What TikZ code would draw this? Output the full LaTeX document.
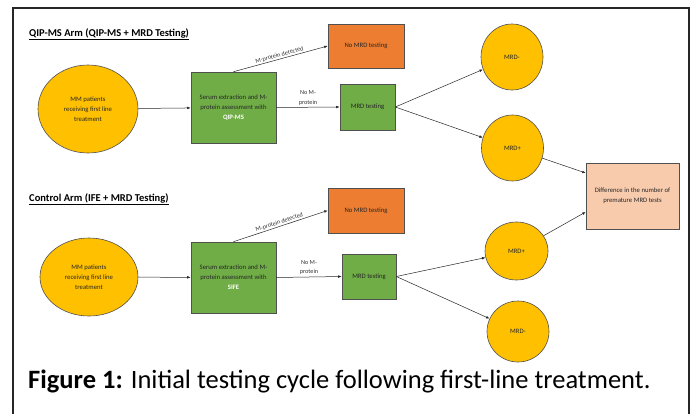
\documentclass[tikz,border=0pt]{standalone}
\usepackage{fontspec}
\setmainfont{Carlito}
\usetikzlibrary{arrows.meta,shapes.geometric}
\definecolor{orng}{HTML}{ED7D31}
\definecolor{grn}{HTML}{70AD47}
\definecolor{yel}{HTML}{FFC000}
\definecolor{peach}{HTML}{F8CBAD}
\definecolor{edge}{HTML}{505050}
\begin{document}
\begin{tikzpicture}[x=1pt,y=-1pt,
  base/.style={draw=edge,line width=0.6pt,align=center,inner sep=1pt,text=black!85,
    font=\fontsize{6.7}{10}\selectfont},
  oval/.style={base,ellipse,fill=yel},
  greenbox/.style={base,rectangle,fill=grn},
  orangebox/.style={base,rectangle,fill=orng},
  peachbox/.style={base,rectangle,fill=peach},
  conn/.style={-{Latex[length=3.5pt,width=2.6pt]},line width=0.5pt,draw=black!85},
  lbl/.style={font=\fontsize{6.2}{9.5}\selectfont,text=black!80,align=center,inner sep=1pt},
  heading/.style={font=\fontsize{10.5}{12}\selectfont\bfseries,anchor=west,inner sep=0pt}
]
\useasboundingbox (0,0) rectangle (692,414);
\fill[white] (0,0) rectangle (692,414);
\draw[line width=2pt,draw=black!85] (12.5,8.5) rectangle (688.5,430);

\node[heading] (t1) at (29,34) {\underline{QIP-MS Arm (QIP-MS + MRD Testing)}};
\node[heading] (t2) at (29,199) {\underline{Control Arm (IFE + MRD Testing)}};

% top arm
\node[oval,minimum width=100pt,minimum height=88pt] (e1) at (88,109) {MM patients\\receiving first line\\treatment};
\node[greenbox,minimum width=85pt,minimum height=71pt] (g1) at (233.5,107.5) {Serum extraction and M-\\protein assessment with\\\textcolor{white}{\textbf{QIP-MS}}};
\node[orangebox,minimum width=76pt,minimum height=44pt] (o1) at (366,46) {No MRD testing};
\node[greenbox,minimum width=55pt,minimum height=46pt] (m1) at (367.5,107) {MRD testing};
\node[oval,minimum width=62pt,minimum height=66pt] (n1) at (512,57) {MRD-};
\node[oval,minimum width=62pt,minimum height=66pt] (p1) at (512.5,148) {MRD+};
\node[peachbox,minimum width=93pt,minimum height=66pt] (d) at (632.5,196) {Difference in the number of\\premature MRD tests};

\draw[conn] (e1) -- (g1);
\draw[conn] (g1.north) -- node[lbl,midway,above,sloped] {M-protein detected} (o1.west);
\draw[conn] (g1.east) -- node[lbl,midway,above=1pt] {No M-\\protein} (m1.west);
\draw[conn] (m1.east) -- (n1);
\draw[conn] (m1.east) -- (p1);
\draw[conn] (p1) -- ([yshift=23pt]d.west);

% control arm
\node[oval,minimum width=98pt,minimum height=78pt] (e2) at (89,277) {MM patients\\receiving first line\\treatment};
\node[greenbox,minimum width=85pt,minimum height=71pt] (g2) at (233.5,277.5) {Serum extraction and M-\\protein assessment with\\\textcolor{white}{\textbf{SIFE}}};
\node[orangebox,minimum width=76pt,minimum height=45pt] (o2) at (366,210.5) {No MRD testing};
\node[greenbox,minimum width=54pt,minimum height=45pt] (m2) at (369,276.5) {MRD testing};
\node[oval,minimum width=63pt,minimum height=58pt] (p2) at (516.5,251) {MRD+};
\node[oval,minimum width=62pt,minimum height=61pt] (n2) at (518,331.5) {MRD-};

\draw[conn] (e2) -- (g2);
\draw[conn] (g2.north) -- node[lbl,midway,above,sloped] {M-protein detected} (o2.west);
\draw[conn] (g2.east) -- node[lbl,midway,above=1pt] {No M-\\protein} (m2.west);
\draw[conn] (m2.east) -- (p2);
\draw[conn] (m2.east) -- (n2);
\draw[conn] (p2) -- ([yshift=-16pt]d.west);

\node[anchor=west,inner sep=0pt,font=\fontsize{26.5}{30}\selectfont] (cap) at (28,381)
  {\textbf{Figure 1:} Initial testing cycle following first-line treatment.};
\end{tikzpicture}
\end{document}
